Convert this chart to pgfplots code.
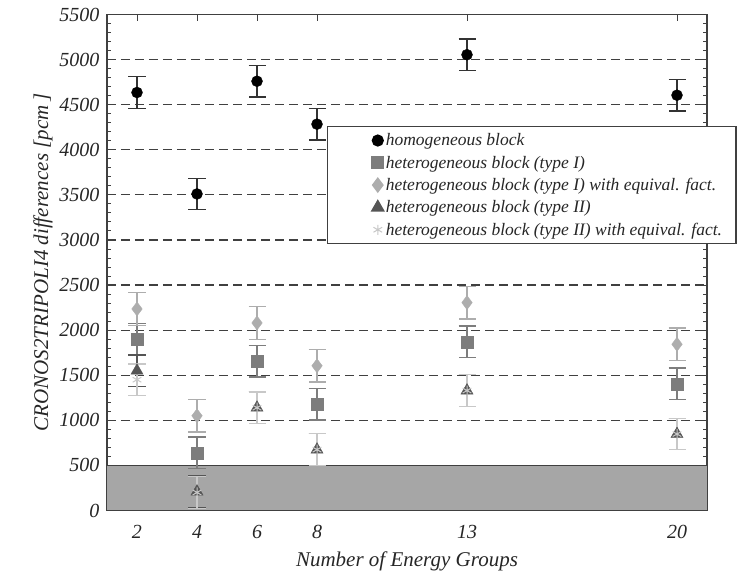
\documentclass[border=0pt]{standalone}
\usepackage{fontspec}
\setmainfont{Liberation Serif}
\usepackage{pgfplots}
\pgfplotsset{compat=1.18}

\definecolor{fillgray}{HTML}{A6A6A6}
\definecolor{axgray}{HTML}{404040}
\definecolor{sqgray}{HTML}{7D7D7D}
\definecolor{diagray}{HTML}{ADADAD}
\definecolor{trigray}{HTML}{555555}
\definecolor{stargray}{HTML}{C8C8C8}

\begin{document}
\begin{tikzpicture}
\begin{axis}[
    width=600pt, height=496pt, scale only axis,
    xmin=1, xmax=21, ymin=0, ymax=5500,
    xtick={2,4,6,8,13,20},
    ytick={0,500,...,5500},
    minor y tick num=4,
    tick align=inside,
    major tick length=7pt, minor tick length=4pt,
    ymajorgrids,
    major grid style={axgray, line width=1.1pt, dash pattern=on 9pt off 5pt},
    axis line style={axgray, line width=1.3pt},
    tick style={axgray, line width=0.9pt},
    /pgf/number format/assume math mode=true,
    /pgf/number format/1000 sep={},
    tick label style={font=\fontsize{20}{24}\selectfont\itshape, text=black!85},
    xticklabel style={yshift=-11pt},
    yticklabel style={xshift=-4pt},
    label style={font=\fontsize{21}{25}\selectfont\itshape, text=black!85},
    xlabel style={yshift=-6pt},
    xlabel={Number of Energy Groups},
    ylabel={CRONOS2TRIPOLI4 differences [pcm\,]},
    legend style={at={(0.366,0.775)}, anchor=north west, draw=axgray,
        line width=1.2pt, font=\fontsize{17.5}{20}\selectfont\itshape,
        text=black!85, inner xsep=12pt, inner ysep=5pt, row sep=4.6pt},
    legend cell align=left,
    legend image code/.code={\path (-38pt,0pt) (5pt,0pt); \draw[#1] plot coordinates {(0pt,0pt)};},
]
\coordinate (ll) at (rel axis cs:0,0);
\coordinate (ur) at (rel axis cs:1,1);

% shaded band below 500 pcm
\addplot[draw=none, fill=fillgray, forget plot] coordinates {(1,500) (21,500)} \closedcycle;
\addplot[axgray, line width=1.3pt, forget plot] coordinates {(1,500) (21,500)};

\addplot[only marks, mark=*, mark size=5.5pt, black,
    error bars/.cd, y dir=both, y explicit,
    error bar style={black!80, line width=1.3pt},
    error mark options={rotate=90, mark size=8.5pt, line width=1.3pt, black!80}]
coordinates {
  (2,4635) +- (0,175)
  (4,3510) +- (0,175)
  (6,4760) +- (0,175)
  (8,4284) +- (0,175)
  (13,5054) +- (0,175)
  (20,4605) +- (0,175)
};
\addlegendentry{homogeneous block}

\addplot[only marks, mark=square*, mark size=6pt, sqgray,
    error bars/.cd, y dir=both, y explicit,
    error bar style={sqgray, line width=1.3pt},
    error mark options={rotate=90, mark size=8.5pt, line width=1.3pt, sqgray}]
coordinates {
  (2,1900) +- (0,175)
  (4,640) +- (0,175)
  (6,1655) +- (0,175)
  (8,1180) +- (0,175)
  (13,1870) +- (0,175)
  (20,1405) +- (0,175)
};
\addlegendentry{heterogeneous block (type I)}

\addplot[only marks, mark=diamond*, mark size=7pt, diagray,
    error bars/.cd, y dir=both, y explicit,
    error bar style={diagray, line width=1.3pt},
    error mark options={rotate=90, mark size=8.5pt, line width=1.3pt, diagray}]
coordinates {
  (2,2235) +- (0,180)
  (4,1050) +- (0,180)
  (6,2080) +- (0,180)
  (8,1605) +- (0,180)
  (13,2305) +- (0,180)
  (20,1843) +- (0,180)
};
\addlegendentry{heterogeneous block (type I) with equival. fact.}

\addplot[only marks, mark=triangle*, mark size=7pt, trigray,
    error bars/.cd, y dir=both, y explicit,
    error bar style={trigray, line width=1.3pt},
    error mark options={rotate=90, mark size=8.5pt, line width=1.3pt, trigray}]
coordinates {
  (2,1550) +- (0,175)
  (4,210) +- (0,175)
  (6,1140) +- (0,175)
  (8,675) +- (0,175)
  (13,1330) +- (0,175)
  (20,848) +- (0,175)
};
\addlegendentry{heterogeneous block (type II)}

\addplot[only marks, mark=asterisk, mark size=5pt, stargray, line width=1pt,
    error bars/.cd, y dir=both, y explicit,
    error bar style={stargray, line width=1.3pt},
    error mark options={rotate=90, mark size=8.5pt, line width=1.3pt, stargray}]
coordinates {
  (2,1450) +- (0,175)
  (4,200) +- (0,175)
  (6,1140) +- (0,175)
  (8,675) +- (0,175)
  (13,1330) +- (0,175)
  (20,848) +- (0,175)
};
\addlegendentry{heterogeneous block (type II) with equival. fact.}
\end{axis}
\pgfresetboundingbox
\path[use as bounding box] ([shift={(-107pt,-61.5pt)}]ll) rectangle ([shift={(37pt,14.5pt)}]ur);
\end{tikzpicture}
\end{document}
